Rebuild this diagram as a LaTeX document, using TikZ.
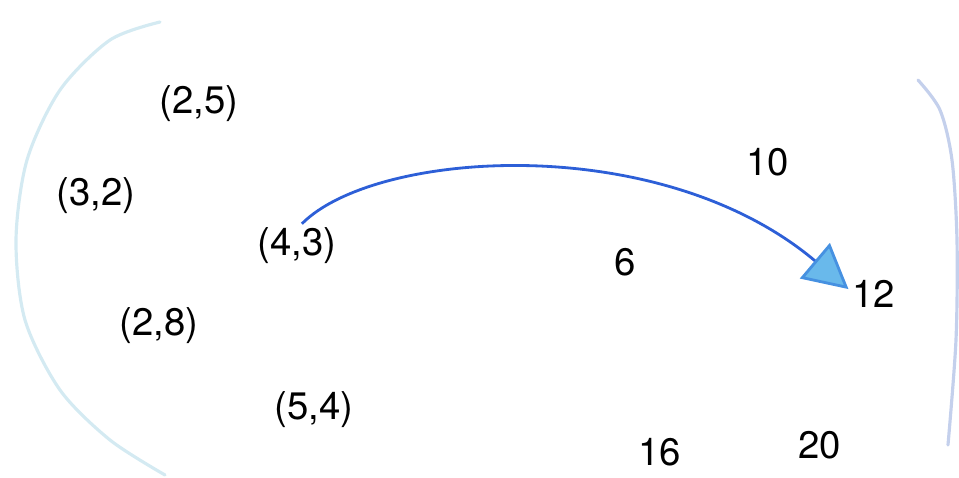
\documentclass[tikz,border=0pt]{standalone}
\usepackage{fontspec}
\setmainfont{TeX Gyre Heros}
\usepackage{xcolor}
\usepackage{tikz}
\usetikzlibrary{arrows.meta}
\definecolor{ArcBlue}{RGB}{45,95,215}
\definecolor{HeadFill}{RGB}{105,185,235}
\definecolor{HeadLine}{RGB}{70,145,225}
\definecolor{SetLeft}{RGB}{212,234,242}
\definecolor{SetRight}{RGB}{196,208,236}

\begin{document}
\begin{tikzpicture}[x=0.01cm,y=-0.01cm,
  pt/.style={inner sep=1pt,font=\fontsize{10.9}{13}\selectfont,text=black},
  setline/.style={line width=0.9pt,line cap=round},
  arr/.style={-{Triangle[length=4.4mm,width=4.6mm,fill=HeadFill,color=HeadLine]},
    thick,color=ArcBlue}
]
\useasboundingbox (0,0) rectangle (959,478);
% set outlines
\draw[setline,SetLeft] plot[smooth] coordinates
  {(160,22) (110,40) (60,90) (27,160) (16,240) (25,320) (60,390) (110,440) (165,475)};
\draw[setline,SetRight] plot[smooth] coordinates
  {(918,80) (940,110) (952,160) (957,240) (956,340) (948,445)};
% domain
\node[pt] (p25) at (199,104) {(2,5)};
\node[pt] (p32) at (96,196) {(3,2)};
\node[pt] (p43) at (297,246) {(4,3)};
\node[pt] (p28) at (159,326) {(2,8)};
\node[pt] (p54) at (314,410) {(5,4)};
% codomain
\node[pt] (v10) at (768,162) {10};
\node[pt] (v6) at (625,262) {6};
\node[pt] (v12) at (874,294) {12};
\node[pt] (v16) at (660,452) {16};
\node[pt] (v20) at (820,445) {20};

\draw[arr] ([xshift=1.4pt]p43.north) .. controls (375,150) and (660,130) .. ([yshift=1.4pt]v12.west);
\end{tikzpicture}
\end{document}
